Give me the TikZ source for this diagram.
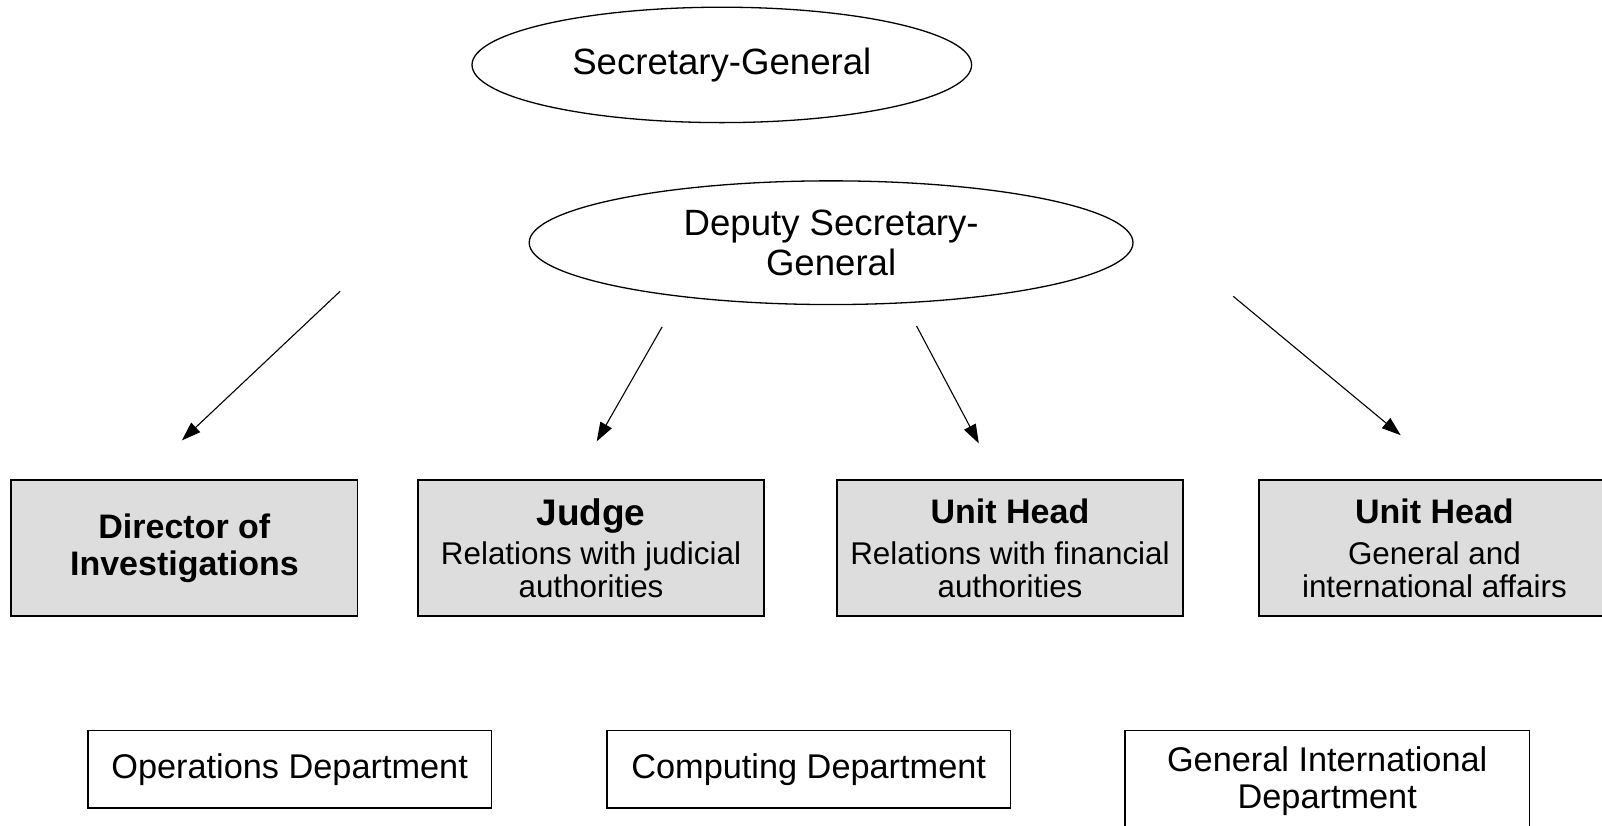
\documentclass[tikz,border=0pt]{standalone}
\usepackage{fontspec}
\setmainfont{Liberation Sans}
\usetikzlibrary{shapes.geometric,arrows.meta}
\definecolor{boxgray}{RGB}{221,221,221}
\newcommand\rtitle{\fontsize{34}{36.8}\selectfont\bfseries}
\newcommand\rjudge{\fontsize{37}{38}\selectfont\bfseries}
\begin{document}
\begin{tikzpicture}[x=1pt,y=-1pt,
  oval/.style={ellipse,draw,line width=1.3pt,inner sep=0pt,align=center,font=\fontsize{36.6}{40}\selectfont},
  rolebox/.style={draw,fill=boxgray,line width=1.6pt,minimum width=346.4pt,minimum height=135.9pt,inner sep=0pt,align=center,font=\fontsize{31.4}{32.7}\selectfont},
  deptbox/.style={draw,line width=1.6pt,minimum width=403.5pt,inner sep=0pt,align=center,font=\fontsize{34.3}{36.8}\selectfont},
  arr/.style={-{Triangle[length=19pt,width=13pt]},line width=1.1pt}]
\useasboundingbox (0,0) rectangle (1602,825);
% ellipses
\node[oval,minimum width=499.6pt,minimum height=115.4pt] (sg) at (721.8,64.9) {Secretary-General};
\node[oval,minimum width=603.8pt,minimum height=123.7pt] (dsg) at (831.1,242.7) {Deputy Secretary-\\General};
% role boxes
\node[rolebox] (dir) at (184.4,548.2) {\rtitle Director of\\[4.1pt]\rtitle Investigations};
\node[rolebox] (judge) at (591.0,548.2) {\rjudge Judge\\[6.5pt]Relations with judicial\\authorities};
\node[rolebox] (fin) at (1010.0,548.2) {\rtitle Unit Head\\[8.2pt]Relations with financial\\authorities};
\node[rolebox,minimum width=351.3pt] (gen) at (1434.4,548.2) {\rtitle Unit Head\\[8.2pt]General and\\international affairs};
% department boxes
\node[deptbox,minimum height=77.7pt] (ops) at (289.6,769.4) {Operations Department};
\node[deptbox,minimum height=77.7pt] (comp) at (808.7,769.4) {Computing Department};
\node[deptbox,minimum width=404.6pt,minimum height=102pt] (gid) at (1327.2,781.5) {General International\\Department};
% arrows
\coordinate (a1s) at (340.2,291.2); \coordinate (a1e) at (181.9,440.4);
\coordinate (a2s) at (662.1,326.9); \coordinate (a2e) at (596.7,441.4);
\coordinate (a3s) at (916.5,325.9); \coordinate (a3e) at (978.8,443.4);
\coordinate (a4s) at (1233.2,296.3); \coordinate (a4e) at (1400.7,435.2);
\draw[arr] (a1s) -- (a1e);
\draw[arr] (a2s) -- (a2e);
\draw[arr] (a3s) -- (a3e);
\draw[arr] (a4s) -- (a4e);
\end{tikzpicture}
\end{document}
